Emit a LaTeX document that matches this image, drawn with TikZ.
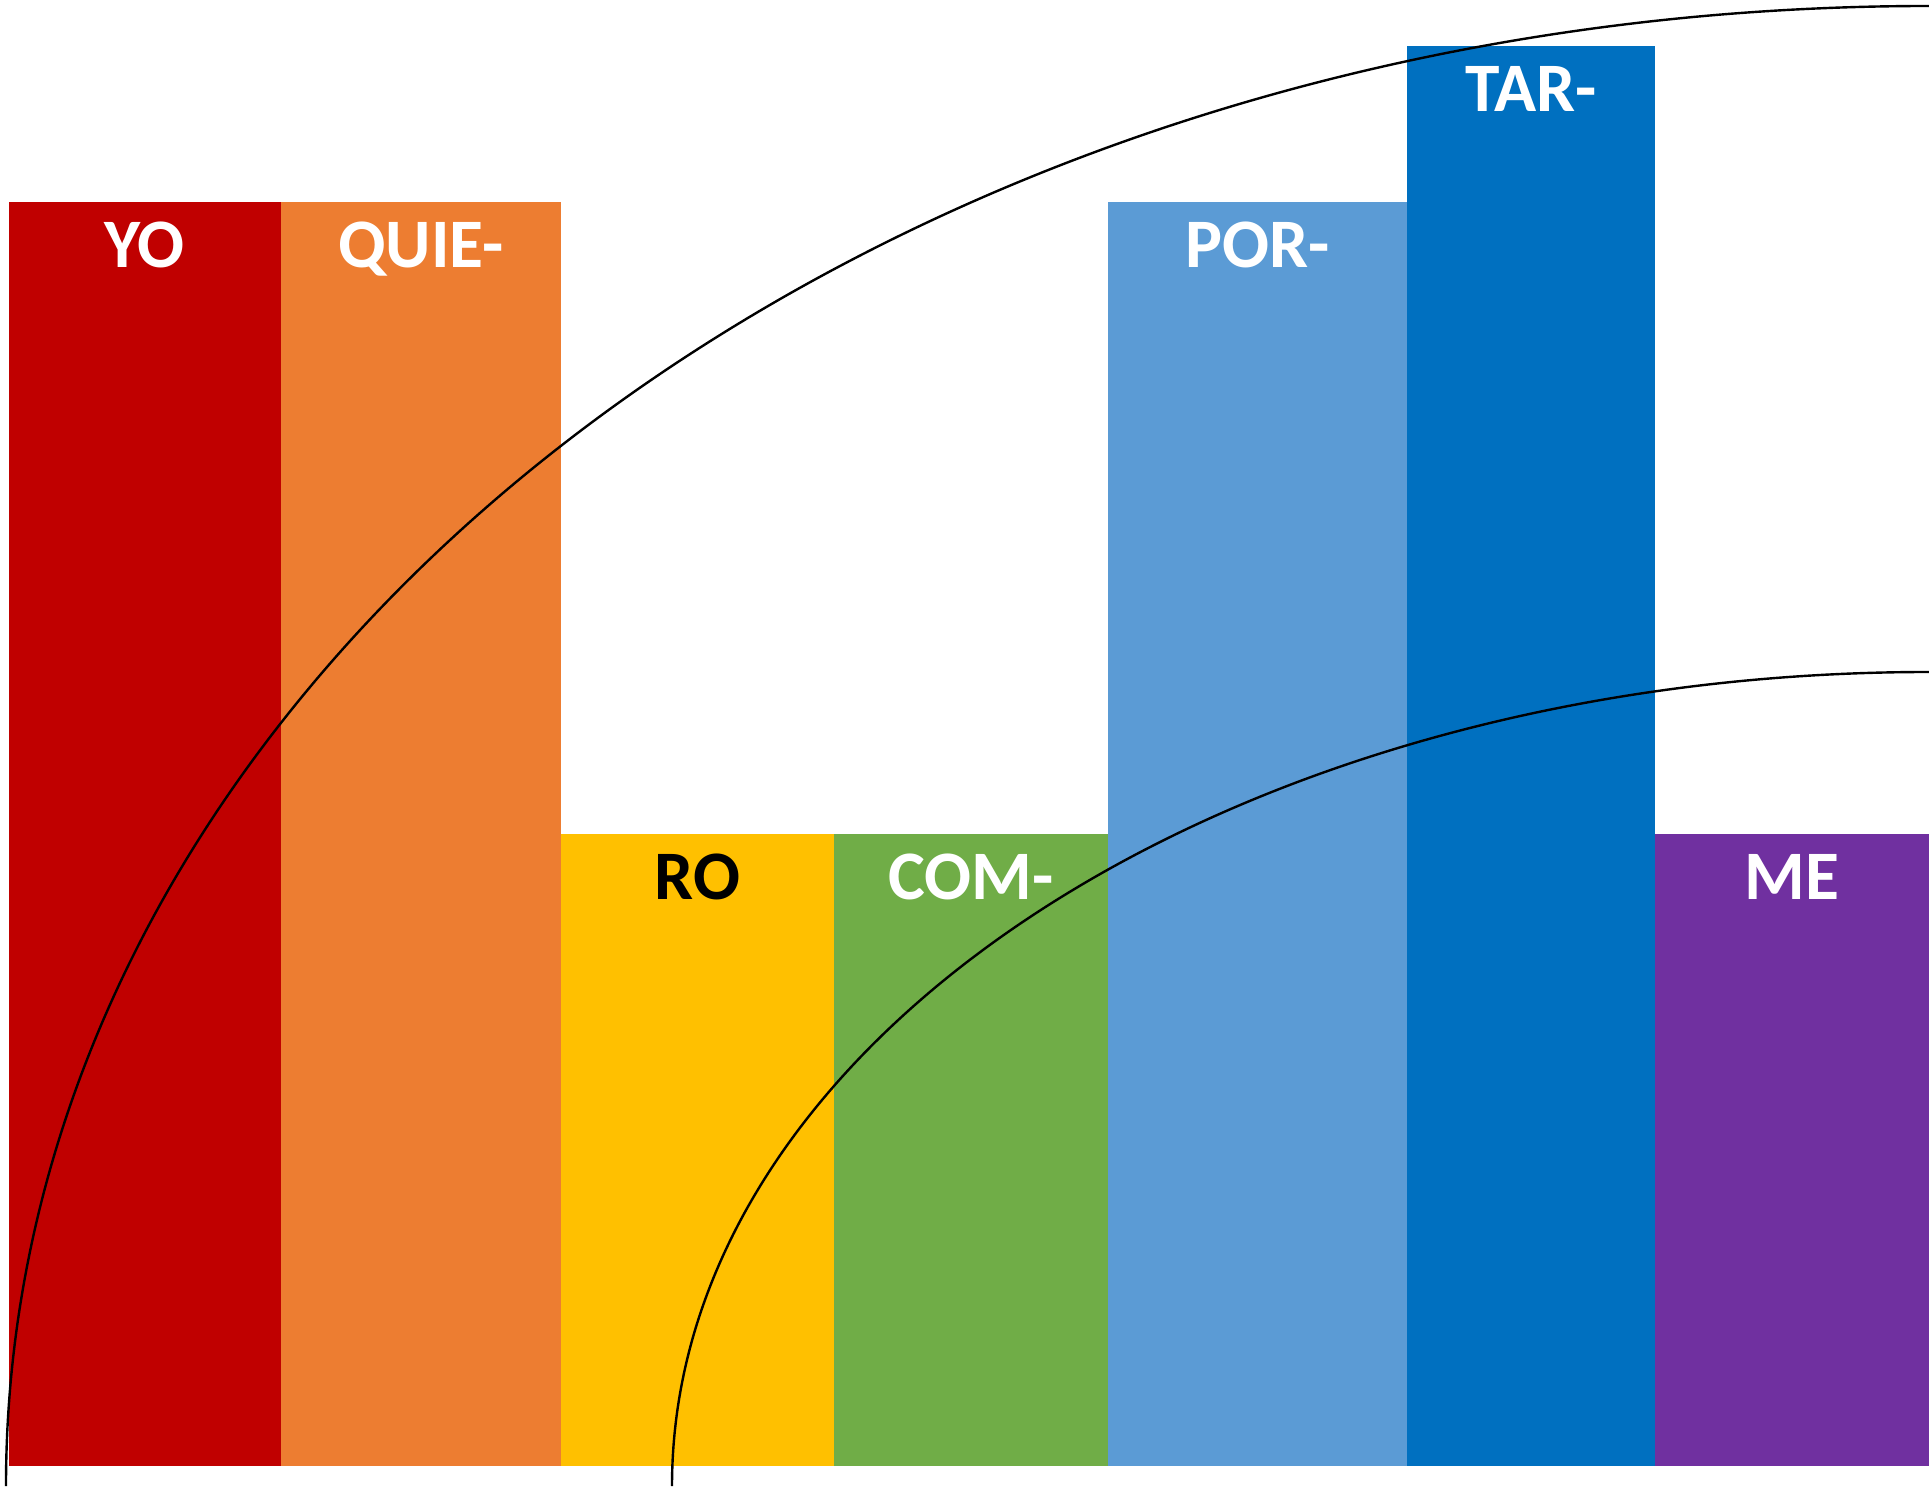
\documentclass[tikz,border=0pt]{standalone}
\usepackage{fontspec}
\setmainfont{Carlito}
\usepackage{tikz}
\usetikzlibrary{positioning}
\definecolor{cyo}{HTML}{C00000}
\definecolor{cquie}{HTML}{ED7D31}
\definecolor{cro}{HTML}{FFC000}
\definecolor{ccom}{HTML}{70AD47}
\definecolor{cpor}{HTML}{5B9BD5}
\definecolor{ctar}{HTML}{0070C0}
\definecolor{cme}{HTML}{7030A0}
\tikzset{
  bar/.style={rectangle,inner sep=0pt,outer sep=0pt,anchor=south west},
  syl/.style={inner sep=0pt,anchor=base,text=white,
    font=\fontsize{69.5}{69.5}\selectfont\bfseries},
  arco/.style={line width=2.4pt,black}
}

\begin{document}
\begin{tikzpicture}[x=1pt,y=1pt]
    \useasboundingbox (0,0) rectangle (1929,1486);
    % the bars, side by side
    \node[bar,fill=cyo,minimum width=272pt,minimum height=1264pt] (yo) at (8.5,20) {};
    \node[bar,fill=cquie,minimum width=280.5pt,minimum height=1264pt] (quie) at (yo.south east) {};
    \node[bar,fill=cro,minimum width=273pt,minimum height=632pt] (ro) at (quie.south east) {};
    \node[bar,fill=ccom,minimum width=274pt,minimum height=632pt] (com) at (ro.south east) {};
    \node[bar,fill=cpor,minimum width=298.5pt,minimum height=1264pt] (por) at (com.south east) {};
    \node[bar,fill=ctar,minimum width=248.5pt,minimum height=1420pt] (tar) at (por.south east) {};
    \node[bar,fill=cme,minimum width=274pt,minimum height=632pt] (me) at (tar.south east) {};
    % syllables
    \foreach \b/\t in {yo/YO,quie/QUIE-,com/COM-,por/POR-,tar/TAR-,me/ME}
      \node[syl] (l-\b) at ([yshift=-66pt]\b.north) {\t};
    \node[syl,text=black] (l-ro) at ([yshift=-66pt]ro.north) {RO};
    % the two quarter ellipses
    \coordinate (a1) at (6,0);
    \coordinate (a2) at (672,0);
    \draw[arco] (a1) arc[start angle=180,end angle=90,x radius=1923pt,y radius=1480pt];
    \draw[arco] (a2) arc[start angle=180,end angle=90,x radius=1257pt,y radius=814pt];
  \end{tikzpicture}
\end{document}
